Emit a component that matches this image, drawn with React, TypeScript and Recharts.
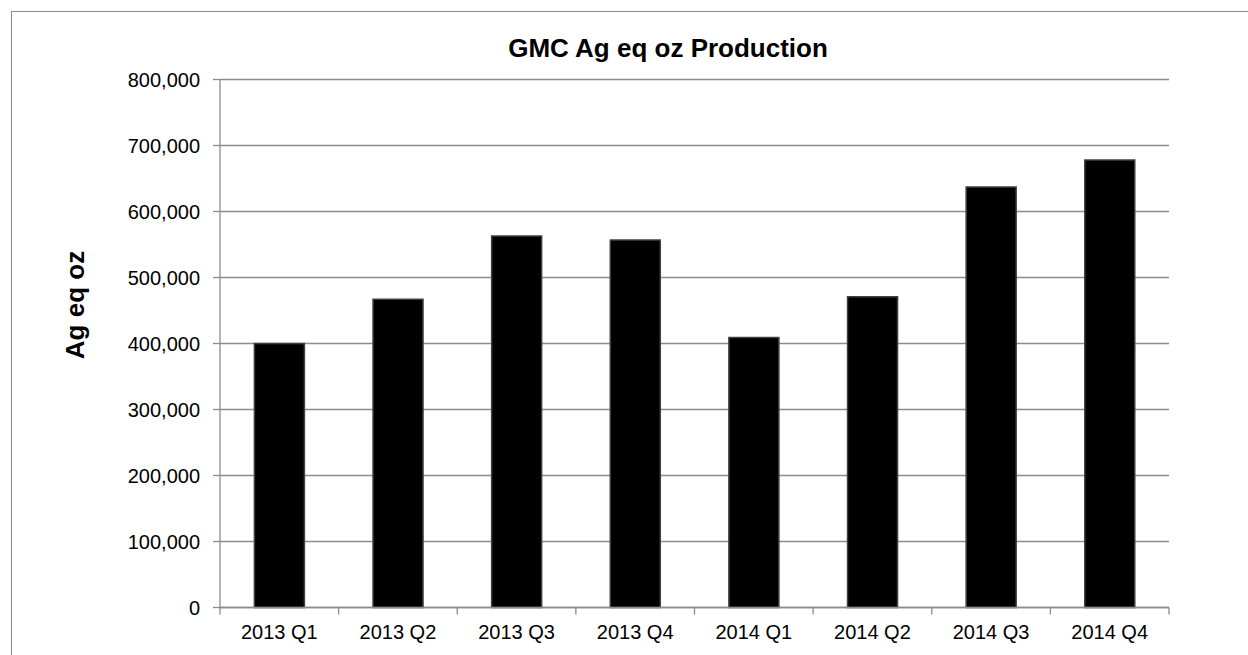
import { BarChart, Bar, XAxis, YAxis, CartesianGrid } from 'recharts';

const quarters = ['2013 Q1', '2013 Q2', '2013 Q3', '2013 Q4', '2014 Q1', '2014 Q2', '2014 Q3', '2014 Q4'];
const agEqOz = [400000, 467000, 563000, 557000, 409000, 471000, 637000, 678000];
const yTicks = [0, 100000, 200000, 300000, 400000, 500000, 600000, 700000, 800000];

const chartData = quarters.map((q, i) => ({ name: q, value: agEqOz[i] }));

const FONT = '"Liberation Sans", Arial, Helvetica, sans-serif';
const GRID = '#8c8c8c';
const X_TICK_MARGIN = 17;
const X_TICK_LEN = 7;

// Excel puts the tick marks between categories, not under them
function QuarterTick(props: any) {
  const { x, y, payload, index } = props;
  const half = payload.offset || 0;
  const axisY = y - X_TICK_MARGIN;
  return (
    <g>
      <line x1={x - half} x2={x - half} y1={axisY} y2={axisY + X_TICK_LEN} stroke={GRID} strokeWidth={1.3} />
      {index === quarters.length - 1 && (
        <line x1={x + half} x2={x + half} y1={axisY} y2={axisY + X_TICK_LEN} stroke={GRID} strokeWidth={1.3} />
      )}
      <text x={x} y={y} dy="0.71em" textAnchor="middle" fill="#000" fontSize={20} fontFamily={FONT}>
        {payload.value}
      </text>
    </g>
  );
}

export default function App() {
  return (
    <div style={{ position: 'fixed', left: 0, top: 0, width: 1248, height: 655, overflow: 'hidden', background: '#fff', fontFamily: FONT }}>
      <div style={{ position: 'absolute', left: 11, top: 11, width: 1400, height: 800, border: '1.5px solid #8a8a8a' }} />
      <BarChart
        width={1248}
        height={655}
        data={chartData}
        margin={{ top: 79.5, right: 79, bottom: 0, left: 0 }}
        barCategoryGap="29%"
        style={{ position: 'absolute', left: 0, top: 0 }}
      >
        <CartesianGrid vertical={false} stroke={GRID} strokeWidth={1.3} />
        <XAxis
          dataKey="name"
          height={47.5}
          tickLine={false}
          tickSize={0}
          tickMargin={X_TICK_MARGIN}
          interval={0}
          tick={<QuarterTick />}
          axisLine={{ stroke: GRID, strokeWidth: 1.3 }}
        />
        <YAxis
          width={220}
          domain={[0, 800000]}
          ticks={yTicks}
          interval={0}
          tickSize={7}
          tickMargin={13}
          tickFormatter={(v: number) => v.toLocaleString('en-US')}
          tick={{ fill: '#000', fontSize: 20, fontFamily: FONT }}
          tickLine={{ stroke: GRID, strokeWidth: 1.3 }}
          axisLine={{ stroke: GRID, strokeWidth: 1.3 }}
        />
        <Bar dataKey="value" fill="#000" stroke="#404040" strokeWidth={1.5} isAnimationActive={false} />
      </BarChart>
      <svg width={1248} height={655} style={{ position: 'absolute', left: 0, top: 0, pointerEvents: 'none' }}>
        <text x={668} y={57} textAnchor="middle" fontFamily={FONT} fontWeight="bold" fontSize={26} fill="#000">
          GMC Ag eq oz Production
        </text>
        <text
          x={0}
          y={0}
          transform="translate(84 305) rotate(-90)"
          textAnchor="middle"
          fontFamily={FONT}
          fontWeight="bold"
          fontSize={26}
          fill="#000"
        >
          Ag eq oz
        </text>
      </svg>
    </div>
  );
}
